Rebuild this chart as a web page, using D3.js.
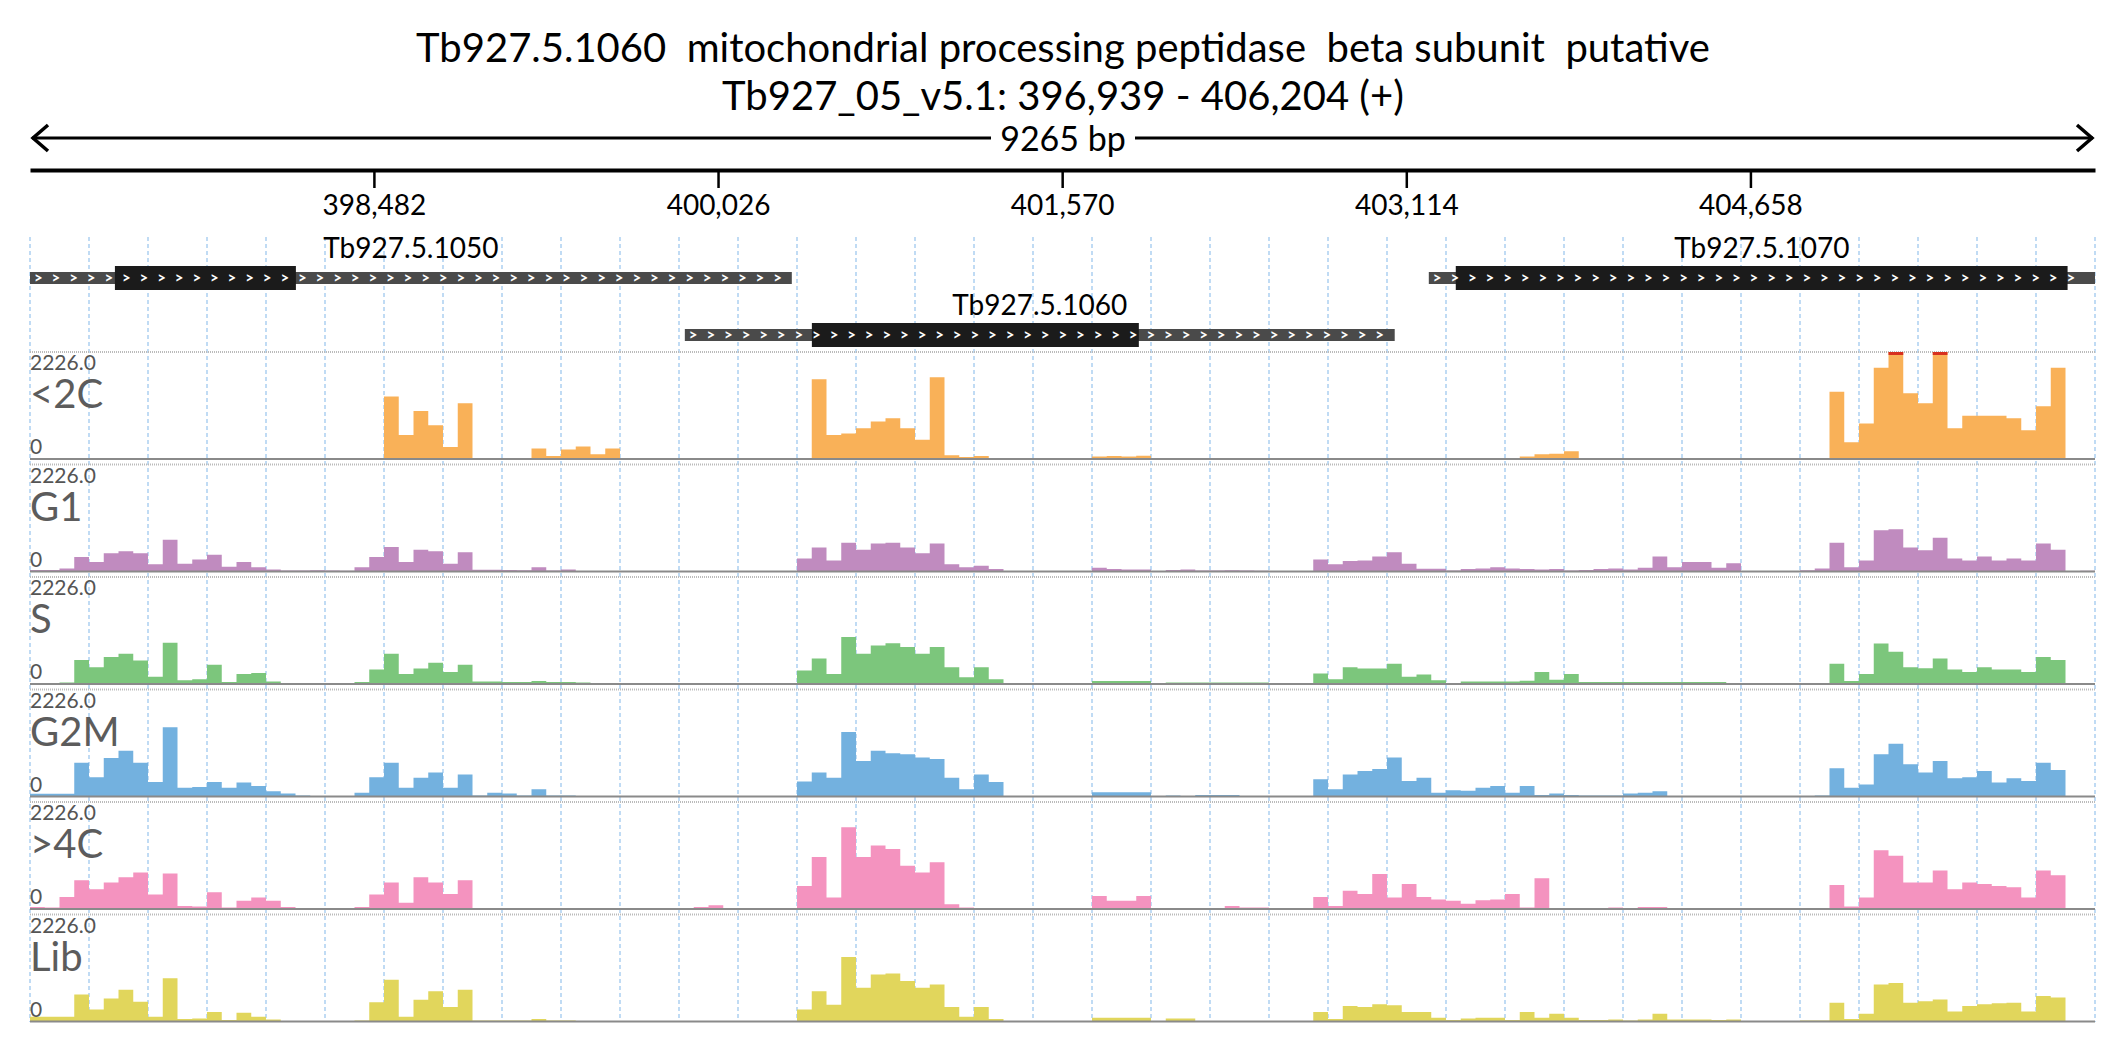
<!DOCTYPE html>
<html>
<head>
<meta charset="utf-8">
<script src="https://cdn.jsdelivr.net/npm/d3@7"></script>
<style>
  body { margin: 0; background: #fff; }
  text { font-family: Lato, "Open Sans", sans-serif; }
</style>
</head>
<body>
<div id="chart"></div>
<script>
// Region and genes
var regionStart = 396939, regionEnd = 406204, regionLen = 9265;
var tickValues = [398482, 400026, 401570, 403114, 404658];
var geneNames = ["Tb927.5.1050", "Tb927.5.1060", "Tb927.5.1070"];
var geneStart = [396939, 399877, 403215];
var geneEnd = [400357, 403062, 406204];
var cdsStart = [397320, 400447, 403336];
var cdsEnd = [398132, 401914, 406081];
var geneRow = [0, 1, 0];

// Coverage tracks, 140 bins across the region
var trackNames = ["<2C", "G1", "S", "G2M", ">4C", "Lib"];
var trackColors = ["#f9b158", "#c08bbf", "#7cc67c", "#73b1df", "#f493bf", "#e1d65c"];
var trackMax = 2226;
var cov2C = [0,0,0,0,0,0,0,0,0,0, 0,0,0,0,0,0,0,0,0,0,
  0,0,0,0,1300,500,1000,700,250,1160, 0,0,0,0,220,60,200,260,100,220,
  0,0,0,0,0,0,0,0,0,0, 0,0,0,1660,500,530,640,780,850,640,
  400,1700,80,40,60,0,0,0,0,0, 0,0,50,60,50,70,0,0,0,0,
  0,0,0,0,0,0,0,0,0,0, 0,0,0,0,0,0,0,0,0,0,
  0,50,100,110,160,0,0,0,0,0, 0,0,0,0,0,0,0,0,0,0,
  0,0,1400,350,740,1900,2300,1370,1160,2300, 640,900,900,900,850,600,1100,1900,0,0];
var covG1 = [30,30,60,300,200,380,420,380,150,660, 160,250,350,100,200,90,40,20,20,25,
  20,15,90,300,510,200,450,420,160,400, 35,35,30,25,90,20,40,10,5,5,
  0,0,0,0,0,0,0,0,0,0, 0,0,270,500,230,600,450,580,600,500,
  380,580,150,90,120,50,0,0,0,0, 0,0,80,50,40,40,10,30,40,20,
  20,25,20,15,10,10,10,250,150,220, 230,310,400,160,55,55,20,50,60,90,
  60,50,40,50,20,30,50,60,40,80, 310,90,200,200,80,170,0,0,0,0,
  25,60,600,90,230,860,880,500,440,700, 270,230,310,230,270,230,580,450,10,15];
var covS = [20,20,30,500,350,560,630,490,150,860, 80,100,400,40,210,230,50,20,10,10,
  10,10,40,300,630,210,320,440,250,400, 50,50,40,40,60,40,40,30,20,10,
  0,0,0,0,0,0,0,0,0,0, 0,0,280,530,210,980,630,800,850,770,
  630,770,350,140,350,100,0,0,0,0, 0,0,60,60,60,60,10,30,30,30,
  30,30,30,30,10,10,10,220,100,350, 320,320,420,150,200,80,20,50,50,50,
  50,70,250,90,210,40,40,40,40,40, 40,40,40,40,40,20,0,0,0,0,
  10,20,420,60,210,840,670,350,330,530, 300,250,350,300,300,250,560,500,10,10];
var covG2M = [55,55,55,700,400,800,950,700,300,1440, 180,200,300,180,290,220,110,60,20,10,
  10,10,80,400,700,180,390,500,180,460, 20,80,60,20,150,20,20,10,10,10,
  5,5,5,5,5,5,5,5,5,5, 5,5,310,500,390,1340,740,950,900,880,
  810,780,390,150,460,300,0,0,0,0, 0,0,90,90,90,90,5,20,10,30,
  30,30,10,10,10,10,10,360,150,460, 530,570,810,320,390,80,130,120,180,220,
  80,220,30,60,30,20,20,20,60,80, 110,0,0,0,0,0,0,0,0,0,
  0,20,590,180,250,880,1100,670,500,740, 380,400,530,290,380,320,700,550,0,0];
var cov4C = [40,30,250,600,410,550,660,760,300,740, 60,50,350,30,170,240,170,40,10,10,
  10,10,40,300,550,130,660,550,310,600, 10,10,10,10,10,10,10,10,10,10,
  10,10,10,10,0,40,80,0,0,0, 0,0,480,1080,240,1700,1080,1320,1250,900,
  760,970,100,30,20,0,0,0,0,0, 0,0,270,170,170,270,0,0,0,0,
  20,60,30,30,20,20,0,250,60,380, 310,730,240,520,250,200,170,110,180,200,
  310,30,640,15,15,15,15,30,15,40, 40,0,0,0,0,0,0,0,0,0,
  0,0,500,50,240,1220,1110,550,550,800, 410,550,520,480,450,240,800,700,0,0];
var covLib = [100,100,100,560,250,480,660,410,100,900, 50,60,200,30,180,100,40,10,10,10,
  10,10,20,400,870,100,450,630,300,660, 20,20,20,20,50,20,20,10,10,10,
  0,0,0,0,0,0,0,0,0,0, 0,0,250,630,350,1340,700,980,1000,840,
  700,770,300,100,300,50,0,0,0,0, 0,0,80,80,80,80,0,60,60,0,
  0,0,0,0,0,0,0,200,50,320, 300,360,340,200,200,80,30,60,80,80,
  30,200,80,160,80,30,30,40,20,40, 160,40,40,40,30,40,0,0,0,0,
  20,20,390,50,160,770,800,390,420,460, 210,320,360,380,390,210,530,500,10,0];
var coverage = [cov2C, covG1, covS, covG2M, cov4C, covLib];

var W = 2126, H = 1058, left = 30, right = 2095;
var svg = d3.select("#chart").append("svg").attr("width", W).attr("height", H);
var x = d3.scaleLinear().domain([regionStart, regionEnd]).range([left, right]);

// Titles
svg.append("text").attr("x", W / 2).attr("y", 62).attr("text-anchor", "middle")
  .attr("font-size", 40).attr("fill", "#000").style("white-space", "pre")
  .text("Tb927.5.1060  mitochondrial processing peptidase  beta subunit  putative");
svg.append("text").attr("x", W / 2).attr("y", 110).attr("text-anchor", "middle")
  .attr("font-size", 40).attr("fill", "#000")
  .text("Tb927_05_v5.1: 396,939 - 406,204 (+)");

// Span arrow
var ay = 138;
svg.append("line").attr("x1", left + 2).attr("x2", right - 2).attr("y1", ay).attr("y2", ay)
  .attr("stroke", "#000").attr("stroke-width", 3);
svg.append("path").attr("d", "M" + (left + 18) + "," + (ay - 13) + "L" + (left + 3) + "," + ay + "L" + (left + 18) + "," + (ay + 13))
  .attr("fill", "none").attr("stroke", "#000").attr("stroke-width", 3.5);
svg.append("path").attr("d", "M" + (right - 18) + "," + (ay - 13) + "L" + (right - 3) + "," + ay + "L" + (right - 18) + "," + (ay + 13))
  .attr("fill", "none").attr("stroke", "#000").attr("stroke-width", 3.5);
svg.append("rect").attr("x", W / 2 - 72).attr("y", ay - 20).attr("width", 144).attr("height", 40).attr("fill", "#fff");
svg.append("text").attr("x", W / 2).attr("y", ay + 13).attr("text-anchor", "middle")
  .attr("font-size", 34).text(regionLen + " bp");

// Coordinate axis
var axis = svg.append("g").attr("transform", "translate(0,170)")
  .call(d3.axisBottom(x).tickValues(tickValues).tickFormat(d3.format(",")).tickSize(18).tickSizeOuter(0));
axis.select(".domain").attr("stroke-width", 4);
axis.selectAll(".tick line").attr("stroke-width", 2.5);
axis.selectAll(".tick text").attr("font-size", 28).attr("font-family", "Lato").attr("dy", "0.85em");

// Grid
var gridVals = d3.range(0, 36).map(function(k) { return regionStart + k * regionLen / 35; });
svg.append("g").selectAll("line").data(gridVals).enter().append("line")
  .attr("x1", function(d) { return x(d); }).attr("x2", function(d) { return x(d); })
  .attr("y1", 237).attr("y2", 1022)
  .attr("stroke", "#9fc8ee").attr("stroke-width", 1.3).attr("stroke-dasharray", "4,3");

// Genes
var rowY = [278, 335], rowLabelY = [258, 315];
geneNames.forEach(function(name, i) {
  var g = svg.append("g");
  var cy = rowY[geneRow[i]];
  g.append("rect").attr("x", x(geneStart[i])).attr("width", x(geneEnd[i]) - x(geneStart[i]))
    .attr("y", cy - 6).attr("height", 12).attr("fill", "#4a4a4a");
  g.append("rect").attr("x", x(cdsStart[i])).attr("width", x(cdsEnd[i]) - x(cdsStart[i]))
    .attr("y", cy - 12).attr("height", 24).attr("fill", "#1b1b1b");
  var n = Math.floor((x(geneEnd[i]) - x(geneStart[i]) - 4) / 17.6);
  g.selectAll("text.chev").data(d3.range(n)).enter().append("text")
    .attr("class", "chev").attr("x", function(k) { return x(geneStart[i]) + 4 + k * 17.6; })
    .attr("y", cy + 5).attr("font-size", 15).attr("font-weight", "bold").attr("fill", "#fff")
    .text(">");
  g.append("text").attr("x", (x(geneStart[i]) + x(geneEnd[i])) / 2).attr("y", rowLabelY[geneRow[i]])
    .attr("text-anchor", "middle").attr("font-size", 28).text(name);
});

// Tracks
var binW = regionLen / 140;
var trackTop = 352, trackH = 107, trackPitch = 112.5;
trackNames.forEach(function(name, t) {
  var top = trackTop + t * trackPitch, base = top + trackH;
  var y = d3.scaleLinear().domain([0, trackMax]).range([base, top]).clamp(true);
  var g = svg.append("g");
  g.append("line").attr("x1", left).attr("x2", right).attr("y1", top).attr("y2", top)
    .attr("stroke", "#bbb").attr("stroke-width", 2).attr("stroke-dasharray", "1,1");
  var vals = coverage[t];
  var pts = vals.map(function(v, i) { return [regionStart + i * binW, v]; });
  pts.push([regionEnd, vals[vals.length - 1]]);
  var area = d3.area().curve(d3.curveStepAfter)
    .x(function(d) { return x(d[0]); }).y0(base).y1(function(d) { return y(d[1]); });
  g.append("path").datum(pts).attr("d", area).attr("fill", trackColors[t]);
  g.selectAll("rect.clip").data(vals.map(function(v, i) { return [i, v]; }).filter(function(d) { return d[1] > trackMax; }))
    .enter().append("rect").attr("x", function(d) { return x(regionStart + d[0] * binW); })
    .attr("width", function(d) { return x(regionStart + (d[0] + 1) * binW) - x(regionStart + d[0] * binW); })
    .attr("y", top).attr("height", 3).attr("fill", "#d7301f");
  g.append("line").attr("x1", left).attr("x2", right).attr("y1", base).attr("y2", base)
    .attr("stroke", "#8a8a8a").attr("stroke-width", 2);
  g.append("text").attr("x", left).attr("y", top + 18).attr("font-size", 21).attr("fill", "#555")
    .text(trackMax.toFixed(1));
  g.append("text").attr("x", left).attr("y", top + 56).attr("font-size", 40).attr("fill", "#5c5c5c")
    .text(name);
  g.append("text").attr("x", left).attr("y", base - 5).attr("font-size", 21).attr("fill", "#555")
    .text("0");
});
</script>
</body>
</html>
